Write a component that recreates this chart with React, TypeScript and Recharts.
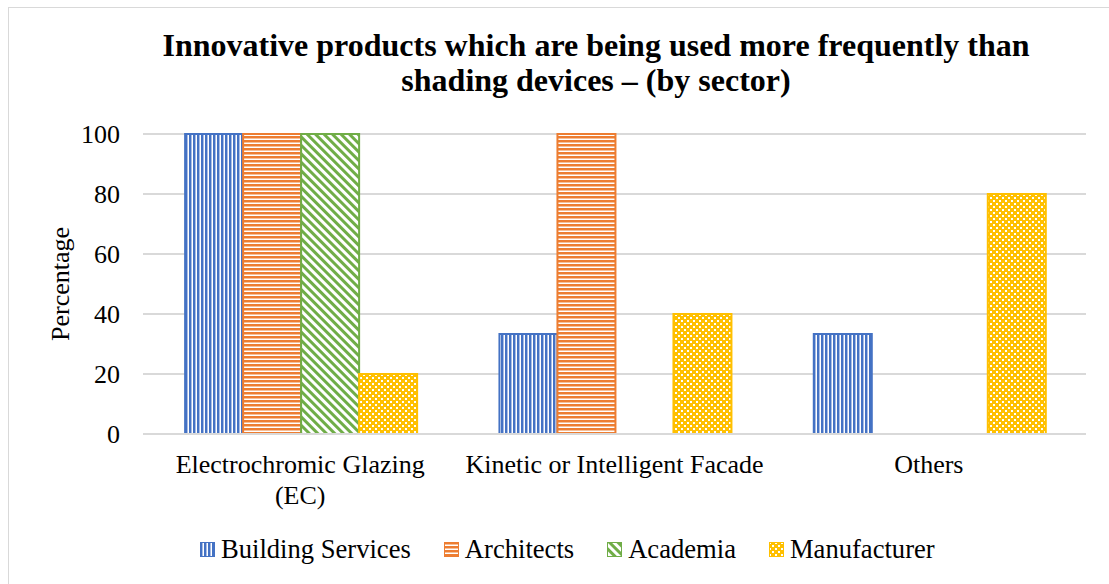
import React from "react"
import { BarChart, Bar, XAxis, YAxis, CartesianGrid, Legend, Label } from "recharts"

const categories = ["Electrochromic Glazing (EC)", "Kinetic or Intelligent Facade", "Others"]
const categoryLines = [["Electrochromic Glazing", "(EC)"], ["Kinetic or Intelligent Facade"], ["Others"]]
const buildingServices = [100, 33.3, 33.3]
const architects = [100, 100, 0]
const academia = [100, 0, 0]
const manufacturer = [20, 40, 80]
const yTicks = [0, 20, 40, 60, 80, 100]

const series = [
  { key: "building", name: "Building Services", color: "#4472C4", values: buildingServices },
  { key: "architects", name: "Architects", color: "#ED7D31", values: architects },
  { key: "academia", name: "Academia", color: "#70AD47", values: academia },
  { key: "manufacturer", name: "Manufacturer", color: "#FFC000", values: manufacturer },
]

const data = categories.map((name, i) => {
  const row: Record<string, string | number> = { name }
  series.forEach((s) => (row[s.key] = s.values[i]))
  return row
})

const FONT = "'Liberation Serif', 'Times New Roman', serif"

function Patterns() {
  return (
    <svg width={0} height={0} style={{ position: "absolute" }}>
      <defs>
        <pattern id="pat-building" width="4" height="4" patternUnits="userSpaceOnUse">
          <rect width="4" height="4" fill="#fff" />
          <rect x="0" width="2" height="4" fill="#4472C4" />
          <rect x="2" width="1" height="4" fill="#a9bde4" />
        </pattern>
        <pattern id="pat-architects" width="4" height="4" patternUnits="userSpaceOnUse">
          <rect width="4" height="4" fill="#fff" />
          <rect y="0" width="4" height="2" fill="#ED7D31" />
          <rect y="2" width="4" height="1" fill="#f6bf98" />
        </pattern>
        <pattern id="pat-academia" width="6" height="6" patternUnits="userSpaceOnUse" patternTransform="rotate(-45)">
          <rect width="6" height="6" fill="#fff" />
          <rect x="0" width="3" height="6" fill="#70AD47" />
        </pattern>
        <pattern id="pat-manufacturer" width="6" height="6" patternUnits="userSpaceOnUse">
          <rect width="6" height="6" fill="#FFC000" />
          <rect x="0" y="0" width="2" height="2" fill="#fff" />
          <rect x="3" y="3" width="2" height="2" fill="#fff" />
        </pattern>
      </defs>
    </svg>
  )
}

function CategoryTick(props: any) {
  const { x, y, payload } = props
  const idx = categories.indexOf(payload.value)
  const lines = categoryLines[idx] || [payload.value]
  return (
    <text x={x} y={y} textAnchor="middle" fontFamily={FONT} fontSize={26} fill="#000">
      {lines.map((line, i) => (
        <tspan key={i} x={x} dy={31}>
          {line}
        </tspan>
      ))}
    </text>
  )
}

function LegendContent() {
  return (
    <div style={{ display: "flex", alignItems: "center", height: 40, paddingLeft: 191, fontFamily: FONT, fontSize: 26.6 }}>
      {series.map((s) => (
        <div key={s.key} style={{ display: "flex", alignItems: "center", marginRight: 33 }}>
          <svg width={15} height={15} style={{ marginRight: 6 }}>
            <rect x={0.5} y={0.5} width={14} height={14} fill={`url(#pat-${s.key})`} stroke={s.color} />
          </svg>
          <span>{s.name}</span>
        </div>
      ))}
    </div>
  )
}

export default function App() {
  return (
    <div
      style={{
        position: "absolute",
        left: 8,
        top: 7,
        width: 1101,
        height: 577,
        boxSizing: "border-box",
        borderLeft: "1px solid #d9d9d9",
        borderTop: "1px solid #d9d9d9",
        background: "#fff",
        overflow: "hidden",
        fontFamily: FONT,
      }}
    >
      <Patterns />
      <div
        style={{
          position: "absolute",
          left: 587,
          top: 20,
          transform: "translateX(-50%)",
          whiteSpace: "nowrap",
          textAlign: "center",
          fontWeight: "bold",
          fontSize: 32,
          lineHeight: "35px",
          color: "#000",
        }}
      >
        Innovative products which are being used more frequently than
        <br />
        shading devices – (by sector)
      </div>
      <BarChart
        width={1100}
        height={576}
        data={data}
        margin={{ top: 126, right: 23, bottom: 0, left: 0 }}
        barCategoryGap="13.4%"
        barGap={0}
      >
        <CartesianGrid vertical={false} stroke="#d9d9d9" strokeWidth={2} />
        <XAxis
          dataKey="name"
          axisLine={{ stroke: "#d9d9d9", strokeWidth: 2 }}
          tickLine={false}
          height={110}
          interval={0}
          tick={<CategoryTick />}
        />
        <YAxis
          width={134}
          domain={[0, 100]}
          ticks={yTicks}
          axisLine={false}
          tickLine={false}
          tickMargin={17}
          tick={{ fill: "#000", fontSize: 26, fontFamily: FONT }}
        >
          <Label
            content={({ viewBox }: any) => {
              const cx = viewBox.x + 51
              const cy = viewBox.y + viewBox.height / 2
              return (
                <text
                  x={cx}
                  y={cy}
                  transform={`rotate(-90 ${cx} ${cy})`}
                  textAnchor="middle"
                  dominantBaseline="central"
                  fontFamily={FONT}
                  fontSize={26}
                  fill="#000"
                >
                  Percentage
                </text>
              )
            }}
          />
        </YAxis>
        <Legend content={<LegendContent />} wrapperStyle={{ top: 521, left: 0, width: 1100, height: 40 }} />
        {series.map((s) => (
          <Bar
            key={s.key}
            dataKey={s.key}
            name={s.name}
            fill={`url(#pat-${s.key})`}
            stroke={s.color}
            strokeWidth={2}
            isAnimationActive={false}
          />
        ))}
      </BarChart>
    </div>
  )
}
